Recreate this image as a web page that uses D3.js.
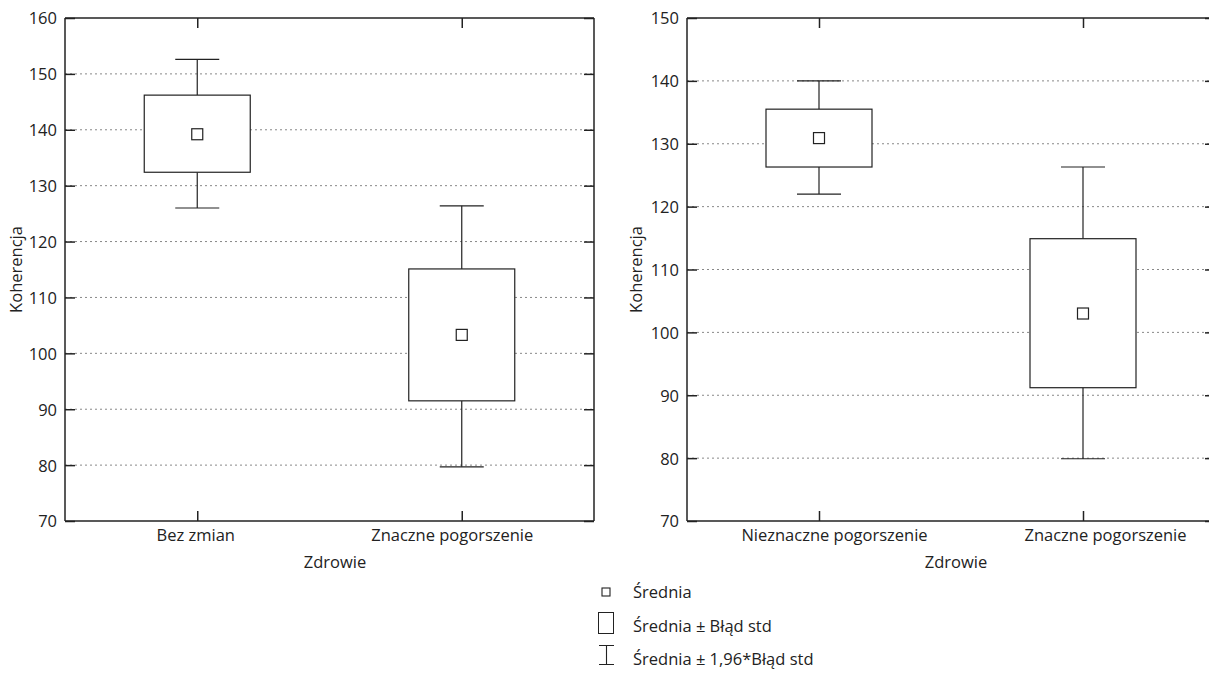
<!DOCTYPE html>
<html><head><meta charset="utf-8">
<script src="https://cdn.jsdelivr.net/npm/d3@7"></script>
<style>
body{margin:0;background:#fff;}
svg text{font-family:"Open Sans",sans-serif;fill:#222;}
</style></head>
<body><svg id="c" width="1209" height="673"></svg>
<script>
// ---- data ----
const categoriesLeft = ["Bez zmian", "Znaczne pogorszenie"];
const meanLeft   = [139.2, 103.3];
const seLowLeft  = [132.4, 91.5];
const seHighLeft = [146.2, 115.1];
const ciLowLeft  = [126.0, 79.7];
const ciHighLeft = [152.6, 126.4];
const yTicksLeft = [70, 80, 90, 100, 110, 120, 130, 140, 150, 160];

const categoriesRight = ["Nieznaczne pogorszenie", "Znaczne pogorszenie"];
const meanRight   = [130.9, 103.0];
const seLowRight  = [126.3, 91.2];
const seHighRight = [135.5, 114.9];
const ciLowRight  = [122.0, 79.9];
const ciHighRight = [140.0, 126.3];
const yTicksRight = [70, 80, 90, 100, 110, 120, 130, 140, 150];

const yLabel = "Koherencja";
const xLabel = "Zdrowie";
const legendLabels = ["Średnia", "Średnia ± Błąd std", "Średnia ± 1,96*Błąd std"];

const svg = d3.select("#c");
const ink = "#222";
const FS = 16.5;

function panel(cfg){
  const {x0, x1, y0, y1, cats, mean, seL, seH, ciL, ciH, ticks, ylabX, xlabX, catShift} = cfg;
  const g = svg.append("g");
  const x = d3.scalePoint().domain(cats).range([x0, x1]).padding(0.5);
  const y = d3.scaleLinear().domain([ticks[0], ticks[ticks.length-1]]).range([y1, y0]);

  // grid
  g.append("g").selectAll("line").data(ticks.slice(1, -1)).join("line")
    .attr("x1", x0).attr("x2", x1)
    .attr("y1", d => y(d)).attr("y2", d => y(d))
    .attr("stroke", "#888").attr("stroke-width", 1)
    .attr("stroke-dasharray", "2,3");

  // axes
  const axL = g.append("g").attr("transform", `translate(${x0},0)`)
    .call(d3.axisLeft(y).tickValues(ticks).tickSize(-10).tickPadding(8).tickFormat(d3.format("d")));
  const axR = g.append("g").attr("transform", `translate(${x1},0)`)
    .call(d3.axisRight(y).tickValues(ticks).tickSize(-10).tickFormat(""));
  const axT = g.append("g").attr("transform", `translate(0,${y0})`)
    .call(d3.axisTop(x).tickSize(-10).tickFormat(""));
  const axB = g.append("g").attr("transform", `translate(0,${y1})`)
    .call(d3.axisBottom(x).tickSize(-10).tickPadding(8));
  [axL, axR, axT, axB].forEach(a => {
    a.attr("font-size", FS).attr("font-family", '"Open Sans",sans-serif');
    a.select(".domain").attr("stroke", ink).attr("stroke-width", 1.5);
    a.selectAll(".tick line").attr("stroke", ink).attr("stroke-width", 1.5);
    a.selectAll("text").attr("font-size", FS).attr("fill", ink);
  });
  axL.selectAll("text").attr("dy", "0.36em");
  axB.selectAll("text").attr("dx", (d, i) => catShift[i]);
  axL.select(".domain").attr("d", `M0,${y0}V${y1}`);
  axR.select(".domain").attr("d", `M0,${y0}V${y1}`);
  axT.select(".domain").attr("d", `M${x0},0H${x1}`);
  axB.select(".domain").attr("d", `M${x0},0H${x1}`);

  const boxW = 106, capW = 44, mk = 11;
  const idx = d3.range(cats.length);
  const items = g.append("g").selectAll("g").data(idx).join("g");
  // whiskers
  items.append("line").attr("x1", i => x(cats[i])).attr("x2", i => x(cats[i]))
    .attr("y1", i => y(ciH[i])).attr("y2", i => y(seH[i])).attr("stroke", ink).attr("stroke-width", 1.2);
  items.append("line").attr("x1", i => x(cats[i])).attr("x2", i => x(cats[i]))
    .attr("y1", i => y(seL[i])).attr("y2", i => y(ciL[i])).attr("stroke", ink).attr("stroke-width", 1.2);
  items.append("line").attr("x1", i => x(cats[i]) - capW/2).attr("x2", i => x(cats[i]) + capW/2)
    .attr("y1", i => y(ciH[i])).attr("y2", i => y(ciH[i])).attr("stroke", ink).attr("stroke-width", 1.2);
  items.append("line").attr("x1", i => x(cats[i]) - capW/2).attr("x2", i => x(cats[i]) + capW/2)
    .attr("y1", i => y(ciL[i])).attr("y2", i => y(ciL[i])).attr("stroke", ink).attr("stroke-width", 1.2);
  // box
  items.append("rect").attr("x", i => x(cats[i]) - boxW/2).attr("width", boxW)
    .attr("y", i => y(seH[i])).attr("height", i => y(seL[i]) - y(seH[i]))
    .attr("fill", "#fff").attr("stroke", ink).attr("stroke-width", 1.2);
  // mean
  items.append("rect").attr("x", i => x(cats[i]) - mk/2).attr("width", mk)
    .attr("y", i => y(mean[i]) - mk/2).attr("height", mk)
    .attr("fill", "#fff").attr("stroke", ink).attr("stroke-width", 1.2);

  // labels
  g.append("text").attr("transform", `translate(${ylabX},${(y0+y1)/2}) rotate(-90)`)
    .attr("text-anchor", "middle").attr("font-size", FS).text(yLabel);
  g.append("text").attr("x", xlabX).attr("y", 568)
    .attr("text-anchor", "middle").attr("font-size", FS).text(xLabel);
}

panel({x0: 65, x1: 594, y0: 18, y1: 521, cats: categoriesLeft, mean: meanLeft,
  seL: seLowLeft, seH: seHighLeft, ciL: ciLowLeft, ciH: ciHighLeft, ticks: yTicksLeft,
  ylabX: 22, xlabX: 335, catShift: [-2, -10]});
panel({x0: 687, x1: 1215, y0: 18, y1: 521, cats: categoriesRight, mean: meanRight,
  seL: seLowRight, seH: seHighRight, ciL: ciLowRight, ciH: ciHighRight, ticks: yTicksRight,
  ylabX: 642, xlabX: 956, catShift: [15, 22]});

// legend
const lg = svg.append("g");
lg.append("rect").attr("x", 602).attr("y", 588).attr("width", 8).attr("height", 8)
  .attr("fill", "#fff").attr("stroke", ink).attr("stroke-width", 1.1);
lg.append("rect").attr("x", 598.5).attr("y", 612.5).attr("width", 15).attr("height", 21)
  .attr("fill", "#fff").attr("stroke", ink).attr("stroke-width", 1);
lg.append("path").attr("d", "M599,645.5H614M606.5,645.5V664.5M599,664.5H614")
  .attr("fill", "none").attr("stroke", ink).attr("stroke-width", 1.1);
lg.selectAll("text").data(legendLabels).join("text")
  .attr("x", 633).attr("y", (d, i) => [598, 632, 665][i])
  .attr("font-size", FS).text(d => d);
</script></body></html>
